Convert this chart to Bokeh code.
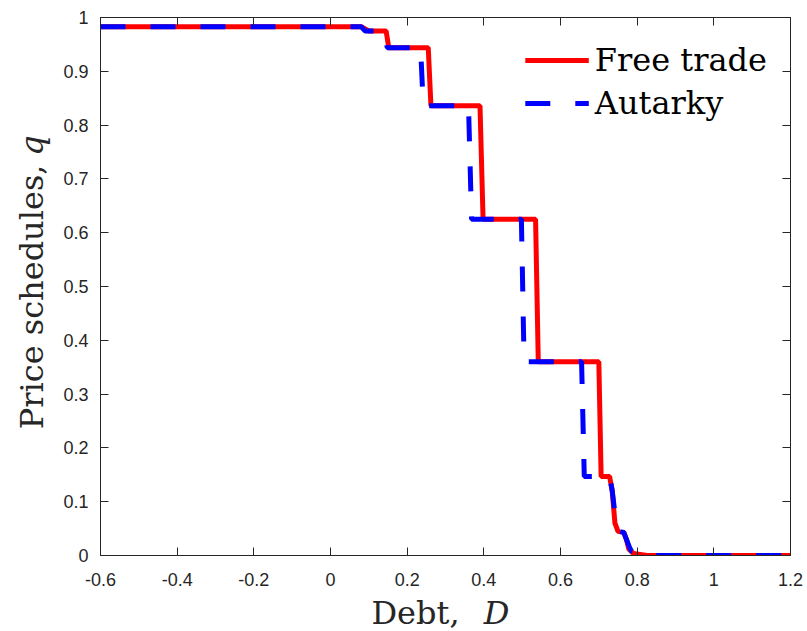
import math
from bokeh.plotting import figure
from bokeh.layouts import column, row
from bokeh.models import Range1d, FixedTicker, LinearAxis, Legend, LegendItem, Label
from bokeh.embed import file_html
from bokeh.resources import INLINE

# ---- data ----
free_debt = [-0.6, 0.08, 0.10, 0.145, 0.152, 0.255, 0.262, 0.39, 0.398, 0.535, 0.542,
             0.70, 0.706, 0.728, 0.735, 0.742, 0.75, 0.765, 0.772, 0.778, 0.79, 0.826, 1.2]
free_q = [0.983, 0.983, 0.975, 0.975, 0.944, 0.944, 0.836, 0.836, 0.625, 0.625, 0.36,
          0.36, 0.147, 0.147, 0.12, 0.06, 0.045, 0.043, 0.03, 0.012, 0.004, 0.0, 0.0]

aut_debt = [-0.6, 0.08, 0.09, 0.14, 0.148, 0.235, 0.242, 0.36, 0.368, 0.498, 0.505,
            0.655, 0.662, 0.728, 0.735, 0.745, 0.752, 0.765, 0.772, 0.78, 0.785, 0.80, 0.81, 1.2]
aut_q = [0.983, 0.983, 0.975, 0.975, 0.944, 0.944, 0.836, 0.836, 0.625, 0.625, 0.36,
         0.36, 0.147, 0.147, 0.12, 0.06, 0.045, 0.043, 0.03, 0.015, 0.008, 0.006, 0.0, 0.0]

x_ticks = [-0.6, -0.4, -0.2, 0, 0.2, 0.4, 0.6, 0.8, 1.0, 1.2]
x_tick_labels = ["-0.6", "-0.4", "-0.2", "0", "0.2", "0.4", "0.6", "0.8", "1", "1.2"]
y_ticks = [0, 0.1, 0.2, 0.3, 0.4, 0.5, 0.6, 0.7, 0.8, 0.9, 1.0]
y_tick_labels = ["0", "0.1", "0.2", "0.3", "0.4", "0.5", "0.6", "0.7", "0.8", "0.9", "1"]

series_names = ["Free trade", "Autarky"]
x_label = ["Debt,", "D"]
y_label = ["Price schedules,", "q"]

AX = "#262626"
SERIF = "DejaVu Serif"
LBL_SIZE = "32px"
MAIN_H = 593

# ---- main plot ----
p = figure(width=752, height=MAIN_H, output_backend="svg", toolbar_location=None,
           x_range=Range1d(-0.6, 1.2), y_range=Range1d(0, 1),
           min_border_left=45, min_border_right=17, min_border_top=17,
           min_border_bottom=MAIN_H - 555)
p.outline_line_color = AX
p.outline_line_width = 1
p.xgrid.visible = False
p.ygrid.visible = False

r1 = p.line(free_debt, free_q, line_color="#ff0000", line_width=5)
r2 = p.line(aut_debt, aut_q, line_color="#0000ff", line_width=5, line_dash="25 25")


def style(ax, ticks, labels, show):
    ax.ticker = FixedTicker(ticks=ticks)
    ax.major_label_overrides = {t: (l if show else "") for t, l in zip(ticks, labels)}
    ax.minor_tick_line_color = None
    ax.major_tick_in = 8
    ax.major_tick_out = 0
    ax.major_tick_line_color = AX
    ax.axis_line_color = AX
    ax.major_label_text_color = AX
    ax.major_label_text_font = "Liberation Sans"
    ax.major_label_text_font_size = "18px"
    if not show:
        ax.major_label_standoff = 0


for ax in p.xaxis:
    style(ax, x_ticks, x_tick_labels, True)
    ax.major_label_standoff = 17
for ax in p.yaxis:
    style(ax, y_ticks, y_tick_labels, True)
    ax.major_label_standoff = 12

top = LinearAxis()
style(top, x_ticks, x_tick_labels, False)
p.add_layout(top, "above")
right = LinearAxis()
style(right, y_ticks, y_tick_labels, False)
p.add_layout(right, "right")

legend = Legend(items=[LegendItem(label=series_names[0], renderers=[r1]),
                       LegendItem(label=series_names[1], renderers=[r2])],
                location="top_right", margin=15, padding=8, spacing=3,
                glyph_width=64, glyph_height=40, label_height=40, label_standoff=6,
                label_text_font=SERIF, label_text_font_size=LBL_SIZE,
                label_text_color="#000000", border_line_alpha=0,
                background_fill_color="white", background_fill_alpha=1)
p.add_layout(legend)

# ---- y-axis label panel ----
fy = figure(width=55, height=MAIN_H, output_backend="svg", toolbar_location=None,
            x_range=Range1d(0, 55), y_range=Range1d(0, MAIN_H),
            x_axis_type=None, y_axis_type=None, min_border=0)
fy.outline_line_color = None
fy.grid.visible = False
fy.add_layout(Label(x=31, y=MAIN_H - 308, text=y_label[0], angle=math.pi / 2,
                    text_align="center", text_baseline="middle", text_font=SERIF,
                    text_font_size=LBL_SIZE, text_color=AX))
fy.add_layout(Label(x=31, y=MAIN_H - 141, text=y_label[1], angle=math.pi / 2,
                    text_align="center", text_baseline="middle", text_font=SERIF,
                    text_font_size=LBL_SIZE, text_font_style="italic", text_color=AX))

# ---- x-axis label panel ----
FX_H = 631 - MAIN_H
fx = figure(width=807, height=FX_H, output_backend="svg", toolbar_location=None,
            x_range=Range1d(0, 807), y_range=Range1d(0, FX_H),
            x_axis_type=None, y_axis_type=None, min_border=0)
fx.outline_line_color = None
fx.grid.visible = False
fx.add_layout(Label(x=415, y=FX_H / 2, text=x_label[0], text_align="center",
                    text_baseline="middle", text_font=SERIF, text_font_size=LBL_SIZE,
                    text_color=AX))
fx.add_layout(Label(x=496, y=FX_H / 2, text=x_label[1], text_align="center",
                    text_baseline="middle", text_font=SERIF, text_font_size=LBL_SIZE,
                    text_font_style="italic", text_color=AX))

layout = column(row(fy, p, spacing=0), fx, spacing=0)

open("out.html", "w").write(file_html(layout, INLINE))
